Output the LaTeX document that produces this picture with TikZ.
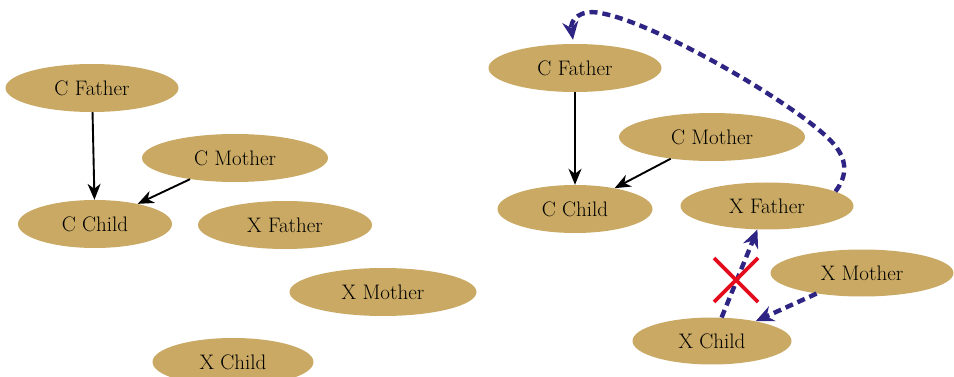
\documentclass[tikz,border=0pt]{standalone}
\usepackage{fontspec}
\setmainfont{Latin Modern Roman}
\usetikzlibrary{shapes.geometric,arrows.meta}
\definecolor{gold}{HTML}{C9A963}
\definecolor{navy}{HTML}{2E2483}
\definecolor{crossred}{HTML}{E30B1C}
\begin{document}
\begin{tikzpicture}[x=1pt,y=-1pt,
  person/.style={ellipse,fill=gold,inner sep=0pt,minimum height=48pt,
    font=\fontsize{21}{24}\selectfont},
  causal/.style={draw=black,line width=1.9pt,-{Stealth[length=16pt,width=13pt,inset=5pt]}},
  hypo/.style={draw=navy,line width=4.4pt,dash pattern=on 8pt off 5pt,
    -{Stealth[length=18pt,width=16pt,inset=6pt]}},
  crossline/.style={draw=crossred,line width=3.8pt}]
\useasboundingbox (0,0) rectangle (954,377);
% left graph
\node[person,minimum width=173pt] (cfL) at (92,88) {C Father};
\node[person,minimum width=186pt] (cmL) at (235,158) {C Mother};
\node[person,minimum width=154pt] (ccL) at (95,224) {C Child};
\node[person,minimum width=174pt] (xfL) at (285,225) {X Father};
\node[person,minimum width=187pt] (xmL) at (383,292) {X Mother};
\node[person,minimum width=161pt] (xcL) at (233,362) {X Child};
\draw[causal] (cfL) -- (ccL);
\draw[causal] (cmL) -- (ccL);
% right graph
\node[person,minimum width=173pt] (cfR) at (575,68) {C Father};
\node[person,minimum width=186pt] (cmR) at (712,137) {C Mother};
\node[person,minimum width=155pt] (ccR) at (575,209) {C Child};
\node[person,minimum width=173pt,minimum height=47pt] (xfR) at (767,206) {X Father};
\node[person,minimum width=183pt,minimum height=47pt] (xmR) at (862,273) {X Mother};
\node[person,minimum width=159pt,minimum height=47pt] (xcR) at (712,341) {X Child};
\draw[causal] (cfR) -- (ccR);
\draw[causal] (cmR) -- (ccR);
\draw[hypo] (xcR) -- (xfR);
\draw[hypo] (xmR) -- (xcR);
\draw[hypo] (xfR.12) .. controls (848,175) and (848,158) .. (830,140)
  .. controls (795,104) and (655,22) .. (600,13)
  .. controls (580,9) and (570,20) .. ([xshift=-2pt,yshift=4pt]cfR.north);
% red cross
\coordinate (xc) at (736,280);
\draw[crossline] ([shift={(-22,-22)}]xc) -- ([shift={(22,22)}]xc);
\draw[crossline] ([shift={(-22,22)}]xc) -- ([shift={(22,-22)}]xc);
\end{tikzpicture}
\end{document}
